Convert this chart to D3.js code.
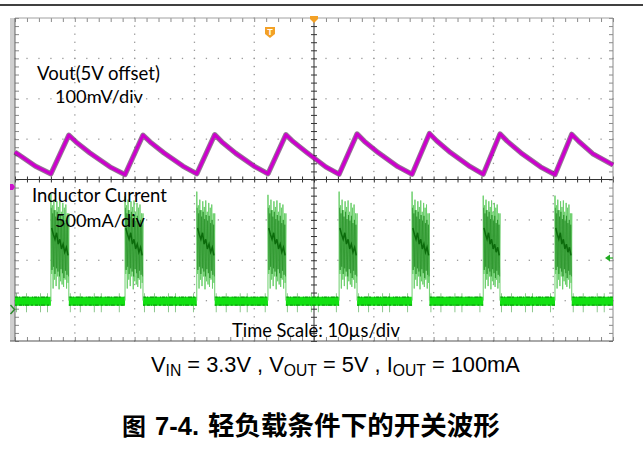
<!DOCTYPE html>
<html><head><meta charset="utf-8">
<script src="https://cdn.jsdelivr.net/npm/d3@7"></script>
<style>html,body{margin:0;padding:0;background:#fff;} svg{display:block}</style>
</head><body>
<svg id="c" width="643" height="449"></svg>
<script>
// ---------------- data ----------------
// time axis: 10 µs / div, 10 divisions
const timeDomain = [0, 100];
const timeMajor = [0, 10, 20, 30, 40, 50, 60, 70, 80, 90, 100];
const divMajor = [-4, -3, -2, -1, 0, 1, 2, 3, 4];
// Vout trace (µs, mV relative to 5 V offset, 100 mV/div)
const voutTime = [0,3.4,6.0,9.0,10.2,12.5,15.9,18.4,21.4,22.6,24.9,28.1,30.4,33.4,34.6,36.9,40.1,42.3,45.3,46.5,48.8,52.0,54.2,57.2,58.4,60.7,64.0,66.4,69.3,70.5,72.8,76.1,78.3,81.1,82.3,84.6,87.9,90.3,93.1,94.3,96.6,100];
const voutMv   = [68,33,14,110,93,66,31,12,110,93,66,33,14,111,93,65,32,14,111,94,67,31,13,113,95,67,32,13,114,96,67,32,13,113,95,66,31,12,112,94,64,36];
// Inductor current bursts (µs) and values (mA, 500 mA/div)
const burstStart = [6.0, 18.4, 30.4, 42.3, 54.2, 66.4, 78.3, 90.3];
const burstEnd   = [9.0, 21.4, 33.4, 45.3, 57.2, 69.3, 81.1, 93.1];
const burstPeak  = [1320, 1290, 1350, 1310, 1350, 1350, 1300, 1300];
const burstHigh  = [1330, 1180, 1250, 1120, 1230, 1160, 1240, 1100, 1210, 1150, 1190, 1080];
const burstLow   = [330, 150, 260, 180, 300, 140, 240, 200, 170, 260, 150, 220];
const innerHigh  = [1150, 1080, 1120, 1040, 1100, 1010, 1060, 990, 1050, 960, 1000, 940];
const innerLow   = [380, 420, 330, 400, 360, 300, 390, 340, 280, 370, 320, 300];
const burstMid   = [900, 820, 760, 840, 700, 760, 640, 700, 600, 660, 560];
const idleCurrent = 0;
// texts
const voutLabel = ["Vout(5V offset)", "100mV/div"];
const ilLabel = ["Inductor Current", "500mA/div"];
const timeLabel = "Time Scale: 10µs/div";
const captionNum = "7-4.";
const captionFig = "图";
const captionText = "轻负载条件下的开关波形";

// ---------------- layout ----------------
const L = 15, R = 613, T = 18, B = 341;
const svg = d3.select("#c");
const x = d3.scaleLinear().domain(timeDomain).range([L, R]);
const yDiv = d3.scaleLinear().domain([-4, 4]).range([B, T]);
const yV = d3.scaleLinear().domain([-400, 400]).range([B, T]);
const yI = d3.scaleLinear().domain([-500, 3500]).range([B, T]);

const timeMinor = d3.range(timeDomain[0], timeDomain[1] + 0.001, 2);
const divMinor = d3.range(-4, 4.001, 0.2);

// top rule line
svg.append("line").attr("x1", 0).attr("x2", 643).attr("y1", 5).attr("y2", 5)
  .attr("stroke", "#000").attr("stroke-width", 1.5);

// gray strip left
svg.append("rect").attr("x", 10).attr("y", T).attr("width", L - 10).attr("height", B - T)
  .attr("fill", "#cfcfcf");

// grid dots
const g = svg.append("g");
timeMajor.filter(t => t !== 0 && t !== 50 && t !== 100).forEach(t => {
  g.selectAll(null).data(divMinor).enter().append("rect")
    .attr("x", x(t) - 0.6).attr("y", d => yDiv(d) - 0.6).attr("width", 1.3).attr("height", 1.3)
    .attr("fill", "#9a9a9a");
});
divMajor.filter(d => d !== -4 && d !== 0 && d !== 4).forEach(dv => {
  g.selectAll(null).data(timeMinor).enter().append("rect")
    .attr("x", d => x(d) - 0.6).attr("y", yDiv(dv) - 0.6).attr("width", 1.3).attr("height", 1.3)
    .attr("fill", "#9a9a9a");
});

// frame ticks via axes
function styleAxis(sel, col) {
  sel.select(".domain").remove();
  sel.selectAll(".tick text").remove();
  sel.selectAll(".tick line").attr("stroke", col);
}
svg.append("g").attr("transform", `translate(0,${T})`)
  .call(d3.axisTop(x).tickValues(timeMinor).tickSize(-4)).call(s => styleAxis(s, "#8a8a8a"));
svg.append("g").attr("transform", `translate(0,${B})`)
  .call(d3.axisBottom(x).tickValues(timeMinor).tickSize(-4)).call(s => styleAxis(s, "#8a8a8a"));
svg.append("g").attr("transform", `translate(${L},0)`)
  .call(d3.axisLeft(yDiv).tickValues(divMinor).tickSize(-4)).call(s => styleAxis(s, "#8a8a8a"));
svg.append("g").attr("transform", `translate(${R},0)`)
  .call(d3.axisRight(yDiv).tickValues(divMinor).tickSize(-4)).call(s => styleAxis(s, "#8a8a8a"));

// center axes
svg.append("line").attr("x1", x(50)).attr("x2", x(50)).attr("y1", T).attr("y2", B)
  .attr("stroke", "#333").attr("stroke-width", 1);
svg.append("line").attr("x1", L).attr("x2", R).attr("y1", yDiv(0)).attr("y2", yDiv(0))
  .attr("stroke", "#333").attr("stroke-width", 1);
svg.append("g").attr("transform", `translate(${x(50)},0)`)
  .call(d3.axisLeft(yDiv).tickValues(divMinor).tickSize(3)).call(s => styleAxis(s, "#333"));
svg.append("g").attr("transform", `translate(${x(50)},0)`)
  .call(d3.axisRight(yDiv).tickValues(divMinor).tickSize(3)).call(s => styleAxis(s, "#333"));
svg.append("g").attr("transform", `translate(0,${yDiv(0)})`)
  .call(d3.axisTop(x).tickValues(timeMinor).tickSize(3)).call(s => styleAxis(s, "#333"));
svg.append("g").attr("transform", `translate(0,${yDiv(0)})`)
  .call(d3.axisBottom(x).tickValues(timeMinor).tickSize(3)).call(s => styleAxis(s, "#333"));

// frame
svg.append("line").attr("x1", L).attr("x2", R).attr("y1", T).attr("y2", T).attr("stroke", "#a0a0a0");
svg.append("line").attr("x1", R).attr("x2", R).attr("y1", T).attr("y2", B).attr("stroke", "#8a8a8a");
svg.append("line").attr("x1", L - 5).attr("x2", R).attr("y1", B).attr("y2", B).attr("stroke", "#555").attr("stroke-width", 1.2);
svg.append("line").attr("x1", L).attr("x2", L).attr("y1", T).attr("y2", B).attr("stroke", "#666");

// ---------------- inductor current ----------------
const gi = svg.append("g");
const idleSeg = [];
idleSeg.push([timeDomain[0], burstStart[0]]);
for (let i = 0; i < burstStart.length - 1; i++) idleSeg.push([burstEnd[i], burstStart[i + 1]]);
idleSeg.push([burstEnd[burstEnd.length - 1], timeDomain[1]]);

idleSeg.forEach(([a, b]) => {
  gi.append("line").attr("x1", x(a) + 1).attr("x2", x(b) - 1)
    .attr("y1", yI(idleCurrent) + 2).attr("y2", yI(idleCurrent) + 2)
    .attr("stroke", "#2f9a2f").attr("stroke-width", 19).attr("stroke-opacity", 0.55)
    .attr("stroke-dasharray", "1 9 1 13 1 6 1 17 1 11");
  gi.append("line").attr("x1", x(a)).attr("x2", x(b))
    .attr("y1", yI(idleCurrent) + 0.5).attr("y2", yI(idleCurrent) + 0.5)
    .attr("stroke", "#12e012").attr("stroke-width", 9);
  gi.append("line").attr("x1", x(a)).attr("x2", x(b))
    .attr("y1", yI(idleCurrent) - 3.5).attr("y2", yI(idleCurrent) - 3.5)
    .attr("stroke", "#0b8a0b").attr("stroke-width", 1.3).attr("stroke-opacity", 0.8)
    .attr("stroke-dasharray", "3 1 1 2 4 1 2 3 1 1");
  gi.append("line").attr("x1", x(a)).attr("x2", x(b))
    .attr("y1", yI(idleCurrent) + 4.5).attr("y2", yI(idleCurrent) + 4.5)
    .attr("stroke", "#0b8a0b").attr("stroke-width", 1.3).attr("stroke-opacity", 0.8)
    .attr("stroke-dasharray", "2 2 3 1 1 1 4 2");
});

const lineXY = d3.line().x(d => x(d[0])).y(d => yI(d[1]));
burstStart.forEach((s, i) => {
  const e = burstEnd[i];
  const n = burstHigh.length;
  const dt = (e - s) / n;
  const outer = [[s, idleCurrent]];
  burstHigh.forEach((h, k) => {
    outer.push([s + k * dt, k === 0 ? burstPeak[i] : h]);
    outer.push([s + (k + 0.5) * dt, burstLow[k]]);
  });
  outer.push([e, burstHigh[n - 1]]);
  outer.push([e, idleCurrent]);
  gi.append("path").attr("d", lineXY(outer)).attr("fill", "none")
    .attr("stroke", "#6ccf6c").attr("stroke-width", 1);
  const inner = [];
  innerHigh.forEach((h, k) => {
    inner.push([s + (k + 0.25) * dt, h]);
    inner.push([s + (k + 0.75) * dt, innerLow[k]]);
  });
  gi.append("path").attr("d", lineXY(inner)).attr("fill", "none")
    .attr("stroke", "#2a922a").attr("stroke-width", 0.9).attr("stroke-opacity", 0.85);
  const mid = burstMid.map((m, k) => [s + (k + 0.5) * (e - s) / burstMid.length, m]);
  gi.append("path").attr("d", lineXY(mid)).attr("fill", "none")
    .attr("stroke", "#0b6b0b").attr("stroke-width", 1.5);
});

// ---------------- Vout ----------------
const vLine = d3.line().x((d, i) => x(voutTime[i])).y(d => yV(d));
svg.append("path").attr("d", vLine(voutMv)).attr("fill", "none")
  .attr("stroke", "#3a0a3a").attr("stroke-width", 5.2).attr("stroke-opacity", 0.55)
  .attr("stroke-linejoin", "round");
svg.append("path").attr("d", vLine(voutMv)).attr("fill", "none")
  .attr("stroke", "#cc00cc").attr("stroke-width", 3.2).attr("stroke-linejoin", "round");

// ---------------- markers ----------------
svg.append("path").attr("d", `M${x(50)-4},16 L${x(50)+4},16 L${x(50)+4},19 L${x(50)},23 L${x(50)-4},19 Z`)
  .attr("fill", "#f3a126");
svg.append("path").attr("d", "M265,27 L275,27 L275,34 L270,38 L265,34 Z").attr("fill", "#f3a126");
svg.append("text").attr("x", 270).attr("y", 35).attr("text-anchor", "middle")
  .attr("font-family", "Liberation Sans, Arial, sans-serif").attr("font-weight", "bold")
  .attr("font-size", 9).attr("fill", "#fff").text("T");
svg.append("path").attr("d", "M10,184 L13,184 L15,187 L13,190 L10,190 Z").attr("fill", "#cc10cc");
svg.append("path").attr("d", "M10.5,305 L14.5,309.5 L10.5,314").attr("fill", "none")
  .attr("stroke", "#2a8a2a").attr("stroke-width", 1.4);
svg.append("path").attr("d", "M605,258 L610,254.5 L610,261.5 Z").attr("fill", "#22aa22");
svg.append("line").attr("x1", 609).attr("x2", 613).attr("y1", 258).attr("y2", 258)
  .attr("stroke", "#22aa22").attr("stroke-width", 1.2);

// ---------------- text ----------------
function fit(sel, w) {
  const cw = sel.node().getComputedTextLength();
  sel.attr("font-size", parseFloat(sel.attr("font-size")) * w / cw);
  return sel;
}
const calib = "Lato, 'Open Sans', sans-serif";
function lab(txt, xx, yy, w) {
  return fit(svg.append("text").attr("x", xx).attr("y", yy).attr("font-family", calib)
    .attr("font-size", 18).attr("fill", "#000").text(txt), w);
}
lab(voutLabel[0], 37, 80, 123);
lab(voutLabel[1], 55, 103, 88);
lab(ilLabel[0], 32, 202, 135);
lab(ilLabel[1], 55, 227, 90);
lab(timeLabel, 232, 337, 168);

// subtitle with subscripts
const sub = svg.append("text").attr("x", 151).attr("y", 372)
  .attr("font-family", "'Liberation Sans', Arial, sans-serif").attr("font-size", 19).attr("fill", "#000");
const parts = [["V", 0], ["IN", 1], [" = 3.3V , V", 0], ["OUT", 1], [" = 5V , I", 0], ["OUT", 1], [" = 100mA", 0]];
let prevSub = 0;
parts.forEach(([t, s]) => {
  const ts = sub.append("tspan").text(t);
  if (s) ts.attr("font-size", "72%");
  const dy = (s ? 4 : 0) - (prevSub ? 4 : 0);
  if (dy) ts.attr("dy", dy);
  prevSub = s;
});
fit(sub, 369);

// caption
svg.append("text").attr("x", 122).attr("y", 435)
  .attr("font-family", "'Noto Sans CJK SC', sans-serif").attr("font-weight", "bold")
  .attr("font-size", 24).attr("fill", "#000").text(captionFig);
fit(svg.append("text").attr("x", 155).attr("y", 435)
  .attr("font-family", "'Liberation Sans', Arial, sans-serif").attr("font-weight", "bold")
  .attr("font-size", 21).attr("fill", "#000").text(captionNum), 44);
fit(svg.append("text").attr("x", 208).attr("y", 435)
  .attr("font-family", "'Noto Sans CJK SC', sans-serif").attr("font-weight", "bold")
  .attr("font-size", 24).attr("fill", "#000").text(captionText), 292);
</script>
</body></html>
